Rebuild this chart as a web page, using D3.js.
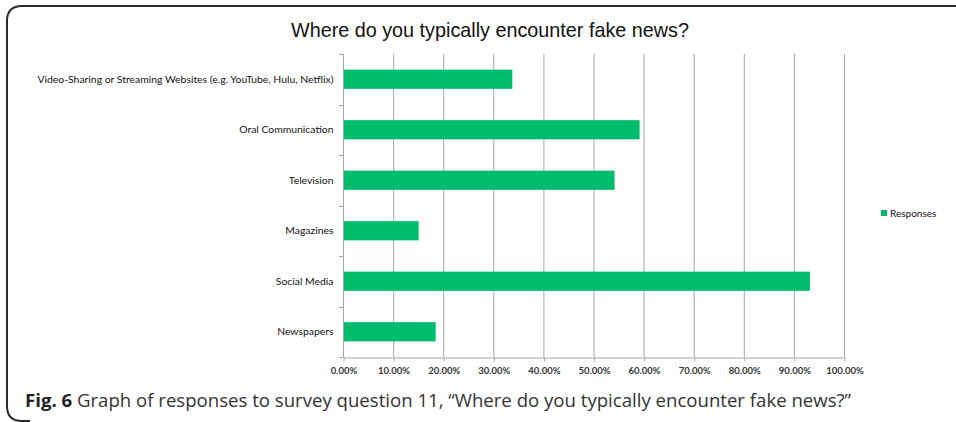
<!DOCTYPE html>
<html>
<head>
<meta charset="utf-8">
<script src="https://cdn.jsdelivr.net/npm/d3@7"></script>
<style>
  html, body { margin: 0; padding: 0; background: #fff; }
  svg { display: block; }
</style>
</head>
<body>
<svg id="chart" width="956" height="422"></svg>
<script>
// Survey question 11: where respondents typically encounter fake news
const categories = [
  "Video-Sharing or Streaming Websites (e.g. YouTube, Hulu, Netflix)",
  "Oral Communication",
  "Television",
  "Magazines",
  "Social Media",
  "Newspapers"
];
const responses = [0.338, 0.592, 0.542, 0.151, 0.932, 0.185];
const xTicks = [0, 0.1, 0.2, 0.3, 0.4, 0.5, 0.6, 0.7, 0.8, 0.9, 1.0];
const seriesName = "Responses";
const chartTitle = "Where do you typically encounter fake news?";
const captionLabel = "Fig. 6";
const captionText = " Graph of responses to survey question 11, \u201cWhere do you typically encounter fake news?\u201d";

const svg = d3.select("#chart");
const barColor = "#00bd6d";
const gridColor = "#a6a6a6";
const labelFont = "Lato, 'Open Sans', sans-serif";

// Rounded frame: left, top and bottom-left corner are visible
svg.append("path")
  .attr("d", "M 958 6 L 22 6 Q 7 6 7 21 L 7 406 Q 7 421 22 421 L 30 421")
  .attr("fill", "none")
  .attr("stroke", "#2b2b2b")
  .attr("stroke-width", 2);

// Title
svg.append("text")
  .attr("x", 490)
  .attr("y", 37)
  .attr("text-anchor", "middle")
  .attr("font-family", "'Liberation Sans', Arial, sans-serif")
  .attr("font-size", 19.8)
  .attr("fill", "#111")
  .text(chartTitle);

const x = d3.scaleLinear().domain([0, 1]).range([343, 844]);
const y = d3.scaleBand()
  .domain(categories)
  .range([54, 357])
  .paddingInner(0.62)
  .paddingOuter(0.31);

// Vertical gridlines
svg.append("g")
  .selectAll("line")
  .data(xTicks.slice(1))
  .join("line")
  .attr("x1", d => x(d) + 0.5)
  .attr("x2", d => x(d) + 0.5)
  .attr("y1", y.range()[0])
  .attr("y2", y.range()[1])
  .attr("stroke", gridColor)
  .attr("stroke-width", 1);

// Bars
svg.append("g")
  .selectAll("rect")
  .data(categories)
  .join("rect")
  .attr("x", x(0))
  .attr("y", d => y(d))
  .attr("width", (d, i) => x(responses[i]) - x(0))
  .attr("height", y.bandwidth())
  .attr("fill", barColor);

// Bottom axis
const xAxis = d3.axisBottom(x)
  .tickValues(xTicks)
  .tickFormat(d => (d * 100).toFixed(2) + "%")
  .tickSizeInner(4)
  .tickSizeOuter(0)
  .tickPadding(6);

const gx = svg.append("g")
  .attr("transform", `translate(0.5,${y.range()[1] + 0.5})`)
  .call(xAxis);
gx.select(".domain").attr("stroke", gridColor);
gx.selectAll(".tick line").attr("stroke", gridColor);
gx.selectAll(".tick text")
  .attr("font-family", labelFont)
  .attr("font-size", 9.5)
  .attr("font-weight", 700)
  .attr("fill", "#333");

// Left axis: labels at band centres, tick marks at band boundaries
const yAxis = d3.axisLeft(y).tickSize(0).tickPadding(10);
const gy = svg.append("g")
  .attr("transform", `translate(${x(0) + 0.5},0)`)
  .call(yAxis);
gy.select(".domain").remove();
gy.selectAll(".tick text")
  .attr("font-family", labelFont)
  .attr("font-size", 10.4)
  .attr("fill", "#111");

const step = y.step();
const gap = step - y.bandwidth();
const boundaries = categories.map(c => y(c) - gap / 2).concat([y.range()[1]]);
svg.append("line")
  .attr("x1", x(0) + 0.5).attr("x2", x(0) + 0.5)
  .attr("y1", y.range()[0]).attr("y2", y.range()[1])
  .attr("stroke", gridColor);
svg.append("g")
  .selectAll("line")
  .data(boundaries)
  .join("line")
  .attr("x1", x(0) - 4)
  .attr("x2", x(0) + 0.5)
  .attr("y1", d => Math.round(d) + 0.5)
  .attr("y2", d => Math.round(d) + 0.5)
  .attr("stroke", gridColor);

// Legend
const legend = svg.append("g").attr("transform", "translate(881,210)");
legend.append("rect")
  .attr("width", 6).attr("height", 6)
  .attr("fill", barColor);
legend.append("text")
  .attr("x", 9).attr("y", 6.5)
  .attr("font-family", labelFont)
  .attr("font-size", 10)
  .attr("fill", "#111")
  .text(seriesName);

// Caption
const cap = svg.append("text")
  .attr("x", 25)
  .attr("y", 407)
  .attr("font-family", "'Open Sans', 'Noto Sans', sans-serif")
  .attr("font-size", 18.6)
  .attr("fill", "#333");
cap.append("tspan").attr("font-weight", 700).attr("fill", "#222").text(captionLabel);
cap.append("tspan").text(captionText);
</script>
</body>
</html>
